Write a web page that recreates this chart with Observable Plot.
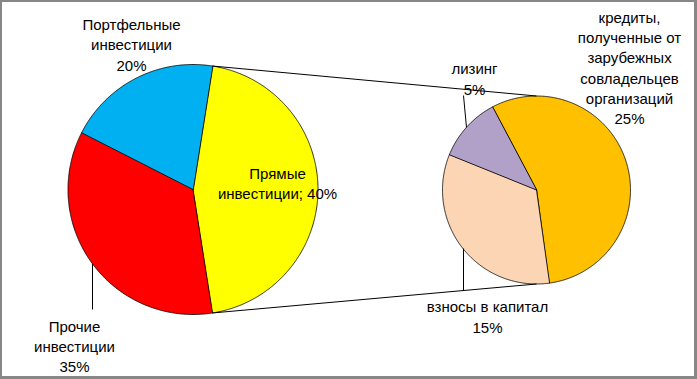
<!DOCTYPE html>
<html>
<head>
<meta charset="utf-8">
<script src="https://cdn.jsdelivr.net/npm/d3@7"></script>
<script src="https://cdn.jsdelivr.net/npm/@observablehq/plot@0.6"></script>
<style>
  html, body { margin: 0; padding: 0; background: #fff; }
  #wrap { position: relative; width: 697px; height: 379px; overflow: hidden; }
  #border { position: absolute; left: 0; top: 0; width: 697px; height: 379px; box-sizing: border-box;
            border-style: solid; border-color: #878787; border-width: 2px 3px 3px 2px; pointer-events: none; }
</style>
</head>
<body>
<div id="wrap"><div id="border"></div></div>
<script>
// ---- data ----
const mainCategories = ["Прямые инвестиции", "Прочие инвестиции", "Портфельные инвестиции"];
const mainValues = [40, 35, 20];           // labelled shares (%)
const mainColors = ["#FFFF00", "#FF0000", "#00B0F0"];

const subCategories = ["кредиты, полученные от зарубежных совладельцев организаций", "взносы в капитал", "лизинг"];
const subValues = [25, 15, 5];             // labelled shares (%)
const subColors = ["#FFC000", "#FCD5B4", "#B1A0C7"];

// ---- layout ----
const W = 697, H = 379;
const FONT = "Liberation Sans, Arial, sans-serif";
const FS = 15;
const left = {cx: 192.5, cy: 189, r: 125};
const right = {cx: 536, cy: 189.5, r: 94, start: -28};

// primary pie: the split-off slice carries the sum of the secondary pie
const otherTotal = d3.sum(subValues);
const primaryGeom = [otherTotal, mainValues[1], mainValues[2]];
const primaryTotal = d3.sum(primaryGeom);
const primaryStart = 90 - (otherTotal / primaryTotal) * 360 / 2;

const rad = a => a * Math.PI / 180;
const pt = (p, a) => [p.cx + p.r * Math.sin(rad(a)), p.cy - p.r * Math.cos(rad(a))];

function slices(pie, values, names, colors, startDeg, total) {
  const out = [];
  let a0 = startDeg;
  values.forEach((v, i) => {
    const a1 = a0 + v / total * 360;
    out.push({slice: names[i], color: colors[i], x: pie.cx, y: pie.cy});
    const n = Math.max(2, Math.ceil(a1 - a0) * 2);
    for (let k = 0; k <= n; k++) {
      const [x, y] = pt(pie, a0 + (a1 - a0) * k / n);
      out.push({slice: names[i], color: colors[i], x, y});
    }
    a0 = a1;
  });
  return out;
}

const leftPts = slices(left, primaryGeom, mainCategories, mainColors, primaryStart, primaryTotal);
const rightPts = slices(right, subValues, subCategories, subColors, right.start, otherTotal);

// connector lines between the split slice and the secondary pie
const aTop = primaryStart, aBot = primaryStart + otherTotal / primaryTotal * 360;
const connectors = [
  {p1: pt(left, aTop), p2: pt(right, 0)},
  {p1: pt(left, aBot), p2: pt(right, 180)}
];

const labels = [
  {text: "Портфельные\nинвестиции\n" + mainValues[2] + "%", x: 131, y: 43.5},
  {text: "Прямые\nинвестиции; " + mainValues[0] + "%", x: 277, y: 182},
  {text: "Прочие\nинвестиции\n" + mainValues[1] + "%", x: 74, y: 345},
  {text: "лизинг\n" + subValues[2] + "%", x: 474, y: 77.5},
  {text: "кредиты,\nполученные от\nзарубежных\nсовладельцев\nорганизаций\n" + subValues[0] + "%", x: 629, y: 66.5},
  {text: "взносы в капитал\n" + subValues[1] + "%", x: 487, y: 315.5}
];

const leaders = [
  {x1: 92, y1: 263, x2: 92, y2: 309},
  {x1: 463, y1: 95, x2: 466, y2: 127},
  {x1: 463, y1: 248, x2: 463, y2: 290}
];

const chart = Plot.plot({
  width: W, height: H,
  margin: 0,
  style: {fontFamily: FONT, fontSize: FS + "px", background: "transparent", overflow: "visible"},
  x: {domain: [0, W], range: [0, W], axis: null},
  y: {domain: [0, H], range: [0, H], axis: null},
  color: {type: "identity"},
  marks: [
    Plot.line(leftPts, {x: "x", y: "y", z: "slice", fill: "color", stroke: "#000", strokeWidth: 0.8, curve: "linear-closed"}),
    Plot.line(rightPts, {x: "x", y: "y", z: "slice", fill: "color", stroke: "#000", strokeWidth: 0.8, curve: "linear-closed"}),
    Plot.link(connectors, {x1: d => d.p1[0], y1: d => d.p1[1], x2: d => d.p2[0], y2: d => d.p2[1], stroke: "#000", strokeWidth: 1}),
    Plot.link(leaders, {x1: "x1", y1: "y1", x2: "x2", y2: "y2", stroke: "#000", strokeWidth: 1}),
    Plot.text(labels, {x: "x", y: "y", text: "text", fill: "#000", fontSize: FS, lineHeight: 20.2 / FS, textAnchor: "middle", lineAnchor: "middle"})
  ]
});
document.getElementById("wrap").prepend(chart);
</script>
</body>
</html>
